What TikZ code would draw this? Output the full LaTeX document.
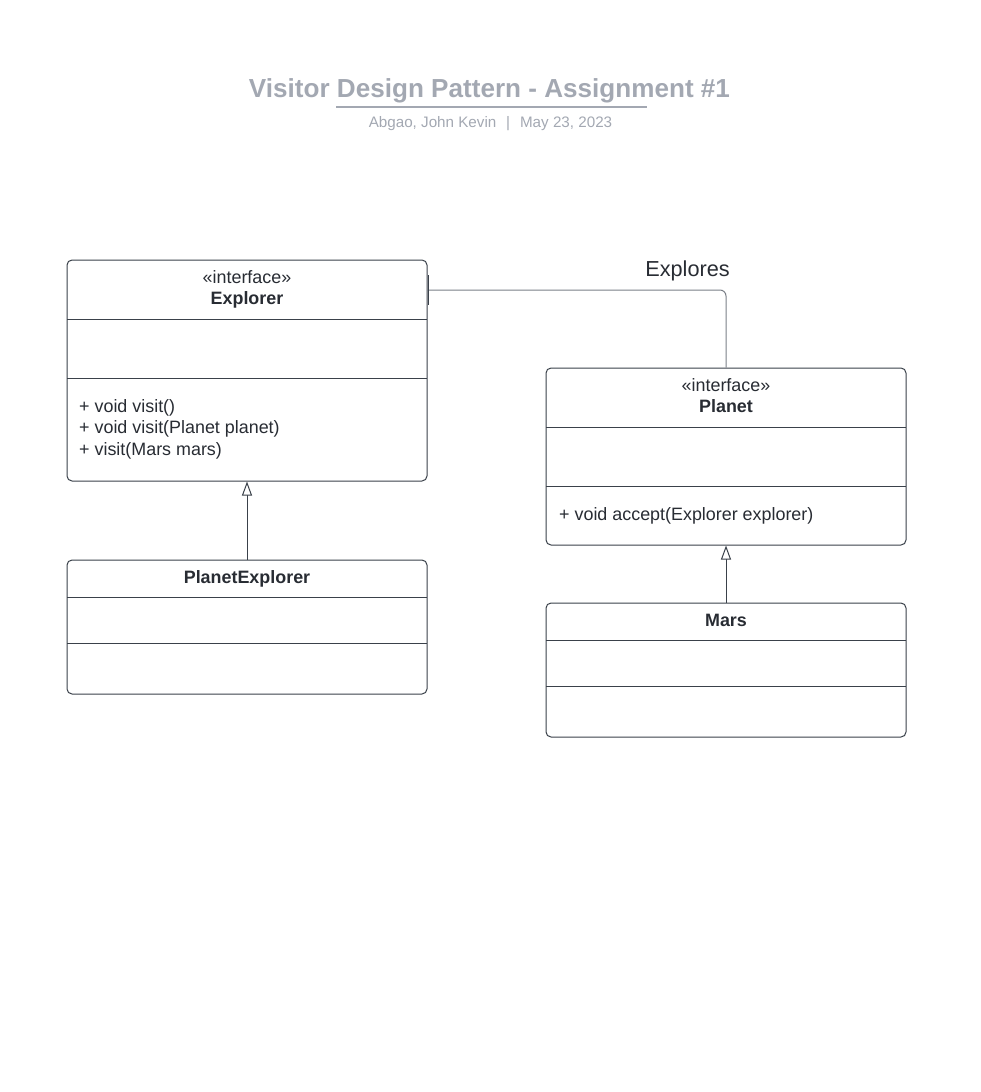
\documentclass[tikz,border=0pt]{standalone}
\usepackage{fontspec}
\setmainfont{Liberation Sans}
\usetikzlibrary{arrows.meta}
\definecolor{boxline}{HTML}{3A414A}
\definecolor{txt}{HTML}{282C33}
\definecolor{titlegray}{HTML}{A3A8B2}
\definecolor{linkgray}{HTML}{7A7F87}
\tikzset{
  umlbox/.style={draw=boxline, line width=1pt, rounded corners=5pt, fill=white, inner sep=0pt},
  sep/.style={draw=boxline, line width=1pt},
  lbl/.style={text=txt, font=\fontsize{17.9}{20}\selectfont, inner sep=0pt},
  lblb/.style={lbl, font=\fontsize{17.9}{20}\selectfont\bfseries},
  inherit/.style={draw=boxline, line width=1pt, -{Triangle[open, length=14pt, width=10pt, fill=white]}},
  link/.style={draw=linkgray, line width=1pt, rounded corners=6pt},
}
\begin{document}
\begin{tikzpicture}[x=1pt,y=-1pt]
\useasboundingbox (0,0) rectangle (980,1092);
% title
\node[text=titlegray, font=\fontsize{26.1}{30}\selectfont\bfseries, anchor=base, inner sep=0pt] (title) at (489.5,97) {Visitor Design Pattern - Assignment \#1};
\coordinate (ul1) at (336,106.5);
\coordinate (ul2) at (647,106.5);
\draw[titlegray, line width=2pt] (ul1) -- (ul2);
\node[text=titlegray, font=\fontsize{15.2}{18}\selectfont, anchor=base, inner sep=0pt] (sub) at (490.5,127) {Abgao, John Kevin\hspace{0.65em}|\hspace{0.65em}May 23, 2023};

% Explorer
\node[umlbox, minimum width=360pt, minimum height=221pt] (explorer) at (247,370.5) {};
\draw[sep] (67,319) -- (427,319);
\draw[sep] (67,378) -- (427,378);
\node[lbl, anchor=base] (exst) at (247,283) {«interface»};
\node[lblb, anchor=base] (exname) at (247,304.5) {Explorer};
\node[lbl, anchor=base west] (exm1) at (79,412) {+ void visit()};
\node[lbl, anchor=base west] (exm2) at (79,433.5) {+ void visit(Planet planet)};
\node[lbl, anchor=base west] (exm3) at (79,455) {+ visit(Mars mars)};

% PlanetExplorer
\node[umlbox, minimum width=360pt, minimum height=134pt] (pe) at (247,627) {};
\draw[sep] (67,597) -- (427,597);
\draw[sep] (67,643) -- (427,643);
\node[lblb, anchor=base] (pename) at (247,583) {PlanetExplorer};

% Planet
\node[umlbox, minimum width=360pt, minimum height=177pt] (planet) at (726,456.5) {};
\draw[sep] (546,427) -- (906,427);
\draw[sep] (546,486) -- (906,486);
\node[lbl, anchor=base] (plst) at (726,391) {«interface»};
\node[lblb, anchor=base] (plname) at (726,412.5) {Planet};
\node[lbl, anchor=base west] (plm1) at (559,520) {+ void accept(Explorer explorer)};

% Mars
\node[umlbox, minimum width=360pt, minimum height=134pt] (mars) at (726,670) {};
\draw[sep] (546,640) -- (906,640);
\draw[sep] (546,686) -- (906,686);
\node[lblb, anchor=base] (marsname) at (726,626) {Mars};

% inheritance
\draw[inherit] (pe.north) -- (explorer.south);
\draw[inherit] (mars.north) -- (planet.south);

% association
\coordinate (a1) at (427,290);
\draw[link] (a1) -| (planet.north);
\coordinate (t1) at (428.5,275);
\coordinate (t2) at (428.5,305);
\draw[boxline, line width=1.5pt] (t1) -- (t2);
\node[text=txt, font=\fontsize{21.7}{24}\selectfont, anchor=base, inner sep=0pt] (explores) at (687.5,276.5) {Explores};
\end{tikzpicture}
\end{document}
